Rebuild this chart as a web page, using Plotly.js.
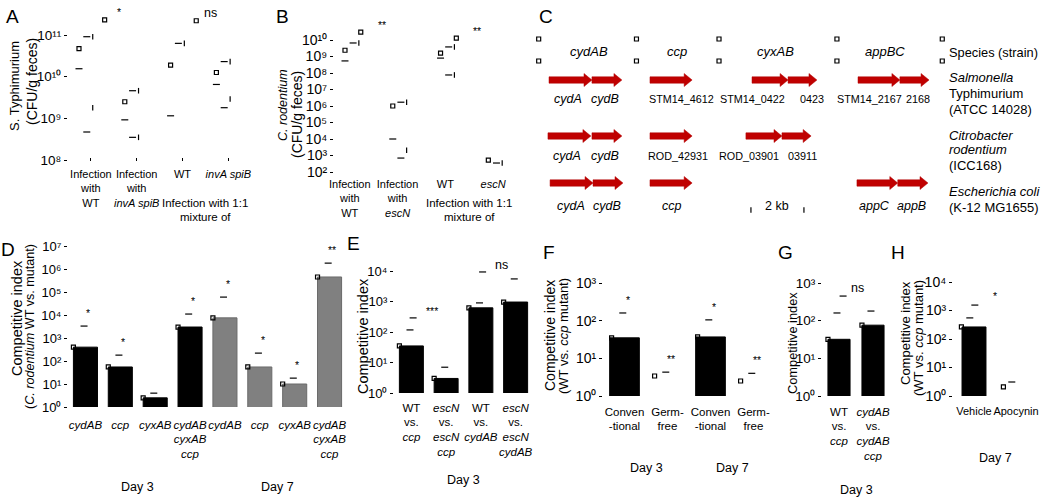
<!DOCTYPE html>
<html>
<head>
<meta charset="utf-8">
<script src="https://cdn.plot.ly/plotly-3.0.1.min.js"></script>
<style>
html,body{margin:0;padding:0;background:#ffffff;}
#chart{width:1050px;height:502px;}
</style>
</head>
<body>
<div id="chart"></div>
<script>
// ================= DATA =================
// Panel A - S. Typhimurium (CFU/g feces)
const aCategories = ['Infection<br>with<br>WT', 'Infection<br>with<br><i>invA spiB</i>', 'WT', '<i>invA spiB</i>'];
const aMean  = [4.7e10, 2.5e9, 1.9e10, 1.26e10];
const aLower = [1.55e10, 9.2e8, 1.15e9, 6.5e9];
const aUpper = [9.1e10, 4.6e9, 6.3e10, 2.3e10];
const aMinA  = [4.7e8, 3.5e8, null, 1.8e9];
const aMinB  = [1.8e9, 3.5e8, null, 2.9e9];
const aCompLeft = [0, 2];
const aCompCap  = [2.3e11, 2.2e11];
const aCompText = ['*', 'ns'];
const aExponents = [8, 9, 10, 11];

// Panel B - C. rodentium (CFU/g feces)
const bCategories = ['Infection<br>with<br>WT', 'Infection<br>with<br><i>escN</i>', 'WT', '<i>escN</i>'];
const bMean  = [2.4e9, 1.0e6, 1.6e9, 530];
const bLower = [5.4e8, 1.0e4, 8.0e8, null];
const bUpper = [6.6e9, 1.7e6, 3.8e9, 350];
const bMinA  = [null, 700, 7.6e7, null];
const bMinB  = [null, 2100, 7.6e7, null];
const bCompLeft = [0, 2];
const bCompCap  = [3.0e10, 1.3e10];
const bCompText = ['**', '**'];
const bExponents = [2, 3, 4, 5, 6, 7, 8, 9, 10];

// Panel C - gene loci (kb)
const cLoci = ['cydAB', 'ccp', 'cyxAB', 'appBC'];
const cSpecies = [
  ['<i>Salmonella</i>', 'Typhimurium', '(ATCC 14028)'],
  ['<i>Citrobacter</i>', '<i>rodentium</i>', '(ICC168)'],
  ['<i>Escherichia coli</i>', '(K-12 MG1655)']
];
const cGeneLocus = [[0, 0, 1, 2, 2, 3, 3], [0, 0, 1, 2, 2], [0, 0, 1, 3, 3]];
const cGeneStart = [[0.34, 1.96, 4.15, 8.00, 9.36, 12.00, 13.58], [0.30, 1.96, 4.15, 7.77, 9.13], [0.38, 2.00, 4.15, 11.96, 13.50]];
const cGeneEnd   = [[1.96, 3.09, 5.74, 9.36, 10.45, 13.58, 14.68], [1.92, 3.09, 5.74, 9.13, 10.23], [2.00, 3.13, 5.74, 13.50, 14.64]];
const cGeneName  = [
  ['<i>cydA</i>', '<i>cydB</i>', 'STM14_4612', 'STM14_0422', '0423', 'STM14_2167', '2168'],
  ['<i>cydA</i>', '<i>cydB</i>', 'ROD_42931', 'ROD_03901', '03911'],
  ['<i>cydA</i>', '<i>cydB</i>', '<i>ccp</i>', '<i>appC</i>', '<i>appB</i>']
];
const cScaleKb = 2;

// Panel D - competitive index, C. rodentium WT vs mutant
const dCategories = ['<i>cydAB</i>', '<i>ccp</i>', '<i>cyxAB</i>', '<i>cydAB</i><br><i>cyxAB</i><br><i>ccp</i>',
                     '<i>cydAB</i>', '<i>ccp</i>', '<i>cyxAB</i>', '<i>cydAB</i><br><i>cyxAB</i><br><i>ccp</i>'];
const dDay    = ['Day 3', 'Day 3', 'Day 3', 'Day 3', 'Day 7', 'Day 7', 'Day 7', 'Day 7'];
const dValues = [400, 55, 2.5, 3000, 7500, 55, 10, 450000];
const dUpper  = [3300, 180, 4, 11000, 60000, 220, 18, 1.8e6];
const dSig    = ['*', '*', '', '*', '*', '*', '*', '**'];
const dExponents = [0, 1, 2, 3, 4, 5, 6, 7];

// Panel E
const eCategories = ['WT<br>vs.<br><i>ccp</i>', '<i>escN</i><br>vs.<br><i>escN</i><br><i>ccp</i>', 'WT<br>vs.<br><i>cydAB</i>', '<i>escN</i><br>vs.<br><i>escN</i><br><i>cydAB</i>'];
const eValues = [35, 3, 620, 960];
const eUpper  = [117, 7, 900, 5500];
const eCompLeft = [0, 2];
const eCompCap  = [290, 9300];
const eCompText = ['***', 'ns'];
const eDay = 'Day 3';
const eExponents = [0, 1, 2, 3, 4];

// Panel F
const fCategories = ['Conven<br>-tional', 'Germ-<br>free', 'Conven<br>-tional', 'Germ-<br>free'];
const fCondition = ['Conventional', 'Germ-free', 'Conventional', 'Germ-free'];
const fDay    = ['Day 3', 'Day 3', 'Day 7', 'Day 7'];
const fValues = [35, 3.4, 37, 2.5];
const fUpper  = [160, 4.3, 105, 4];
const fSig    = ['*', '**', '*', '**'];
const fExponents = [0, 1, 2, 3];

// Panel G
const gCategories = ['WT<br>vs.<br><i>ccp</i>', '<i>cydAB</i><br>vs.<br><i>cydAB</i><br><i>ccp</i>'];
const gValues = [32, 76];
const gUpper  = [160, 180];
const gCompLeft = [0];
const gCompCap  = [450];
const gCompText = ['ns'];
const gDay = 'Day 3';
const gExponents = [0, 1, 2, 3];

// Panel H
const hCategories = ['Vehicle', 'Apocynin'];
const hValues = [265, 2.1];
const hUpper  = [550, 3.1];
const hCompLeft = [0];
const hCompCap  = [1550];
const hCompText = ['*'];
const hDay = 'Day 7';
const hExponents = [0, 1, 2, 3, 4];

// ================= HELPERS =================
const W = 1050, H = 502;
const REG = '"Liberation Sans",Arial,Helvetica,sans-serif';
const SUPS = ['⁰', '¹', '²', '³', '⁴', '⁵', '⁶', '⁷', '⁸', '⁹'];
const pow10Label = e => '10' + String(e).split('').map(d => SUPS[+d]).join('');
const fx = p => p / W;
const fy = p => 1 - p / H;
const idx = arr => arr.map((_, i) => i);
const shift = (arr, d) => arr.map((_, i) => i + d);
function logRange(v0, p0, v1, p1, pBottom, pTop) {
  const k = (v1 - v0) / (p0 - p1);
  return [v0 - (pBottom - p0) * k, v0 + (p0 - pTop) * k];
}
const traces = [], annotations = [], shapes = [];
const layout = {
  width: W, height: H, margin: {l: 0, r: 0, t: 0, b: 0},
  paper_bgcolor: '#ffffff', plot_bgcolor: 'rgba(0,0,0,0)', showlegend: false,
  font: {family: REG, size: 12, color: '#000'},
  annotations, shapes
};

function setAxes(n, o) {
  const xk = n === 1 ? 'xaxis' : 'xaxis' + n, yk = n === 1 ? 'yaxis' : 'yaxis' + n;
  const xid = n === 1 ? 'x' : 'x' + n, yid = n === 1 ? 'y' : 'y' + n;
  layout[xk] = {
    domain: [fx(o.x0), fx(o.x1)], range: o.xRange, anchor: yid, type: 'linear',
    tickmode: 'array', tickvals: idx(o.cats), ticktext: o.cats,
    ticks: o.xTicks || '', ticklen: 3, tickcolor: '#000', tickwidth: 1,
    showline: false, showgrid: false, zeroline: false, tickangle: 0,
    tickfont: {family: REG, size: o.catSize, color: '#000'},
    ticklabelstandoff: o.xStand || 0,
    automargin: false, fixedrange: true
  };
  layout[yk] = {
    domain: [fy(o.yb), fy(o.yt)], range: o.yRange, anchor: xid, type: 'log',
    tickmode: 'array', tickvals: o.exps.map(e => Math.pow(10, e)),
    ticktext: o.exps.map(pow10Label),
    ticks: 'outside', ticklen: 3, tickwidth: 1, tickcolor: '#000',
    showline: false, showgrid: false, zeroline: false,
    tickfont: {family: REG, size: o.tickSize, color: '#000'},
    automargin: false, fixedrange: true
  };
  return [xid, yid];
}
function marks(xa, ya, xs, ys, symbol, size, lw) {
  traces.push({
    type: 'scatter', mode: 'markers', xaxis: xa, yaxis: ya, x: xs, y: ys,
    marker: {symbol: symbol, size: size, color: '#000', line: {color: '#000', width: lw || 1.2}},
    hoverinfo: 'skip', showlegend: false, cliponaxis: false
  });
}
function bars(xa, ya, vals, colors, lineColors, width) {
  traces.push({
    type: 'bar', xaxis: xa, yaxis: ya, x: idx(vals), y: vals, width: width,
    marker: {color: colors, line: {color: lineColors, width: 1}},
    hoverinfo: 'skip', showlegend: false
  });
}
function txt(text, x, y, o) {
  annotations.push(Object.assign({
    text: text, x: x, y: y, xref: 'paper', yref: 'paper', showarrow: false,
    xanchor: 'center', yanchor: 'middle',
    font: {family: REG, size: 12, color: '#000'}
  }, o || {}));
}
function ytitle(text, xPx, yPx, size) {
  txt(text, fx(xPx), fy(yPx), {textangle: -90, font: {family: REG, size: size, color: '#000'}});
}
function comps(xa, ya, left, cap, text, capOff, textOff, capSym, yshift) {
  marks(xa, ya, left.map(l => l + capOff), cap, capSym, capSym === 'square-open' ? 4 : 5);
  left.forEach((l, i) => {
    txt(text[i], l + textOff, Math.log10(cap[i]), {xref: xa, yref: ya, yshift: yshift,
      font: {family: REG, size: text[i] === 'ns' ? 12.5 : 10.5, color: '#000'}});
  });
}
function barSig(xa, ya, upper, sig) {
  upper.forEach((u, i) => {
    if (sig[i]) txt(sig[i], i + 0.08, Math.log10(u), {xref: xa, yref: ya, yshift: 13,
      font: {family: REG, size: 10.5, color: '#000'}});
  });
}
function panelLetter(l, xPx, yPx) {
  txt(l, fx(xPx), fy(yPx), {font: {family: REG, size: 19, color: '#000'}});
}
function dayLabels(xa, days, yPx) {
  [...new Set(days)].forEach(day => {
    const ii = idx(days).filter(i => days[i] === day);
    txt(day, (ii[0] + ii[ii.length - 1]) / 2, fy(yPx), {xref: xa, font: {family: REG, size: 12.5, color: '#000'}});
  });
}

// ================= PANEL A =================
{
  const [xa, ya] = setAxes(1, {x0: 68, x1: 251.2, xRange: [-0.5, 3.5], cats: aCategories, catSize: 11, xTicks: 'inside', xStand: 5,
    yb: 161, yt: 8, yRange: logRange(8, 160, 11, 35, 161, 8), exps: aExponents, tickSize: 13.5});
  marks(xa, ya, shift(aMean, -0.26), aMean, 'square-open', 4);
  marks(xa, ya, shift(aLower, -0.26), aLower, 'line-ew-open', 5);
  marks(xa, ya, shift(aUpper, -0.09), aUpper, 'line-ew-open', 5);
  marks(xa, ya, shift(aUpper, 0.04), aUpper, 'line-ns-open', 4);
  marks(xa, ya, shift(aMinA, -0.09), aMinA, 'line-ew-open', 5);
  marks(xa, ya, shift(aMinB, 0.04), aMinB, 'line-ns-open', 4);
  comps(xa, ya, aCompLeft, aCompCap, aCompText, 0.3, 0.62, 'square-open', 8);
  txt('Infection with 1:1', 2.5, fy(203), {xref: xa, font: {family: REG, size: 11.5, color: '#000'}});
  txt('mixture of', 2.5, fy(217), {xref: xa, font: {family: REG, size: 11.5, color: '#000'}});
  ytitle('S. Typhimurium', 15, 86, 13);
  ytitle('(CFU/g feces)', 32, 82, 14);
  panelLetter('A', 12, 17);
}

// ================= PANEL B =================
{
  const [xa, ya] = setAxes(2, {x0: 334, x1: 517, xRange: [-0.33, 3.5], cats: bCategories, catSize: 11, xStand: 2,
    yb: 174, yt: 18, yRange: logRange(2, 172, 10, 40, 174, 18), exps: bExponents, tickSize: 14});
  marks(xa, ya, shift(bMean, -0.10), bMean, 'square-open', 4);
  marks(xa, ya, shift(bLower, -0.10), bLower, 'line-ew-open', 5);
  marks(xa, ya, shift(bUpper, 0.07), bUpper, 'line-ew-open', 5);
  marks(xa, ya, shift(bUpper, 0.19), bUpper, 'line-ns-open', 4);
  marks(xa, ya, shift(bMinA, 0.07), bMinA, 'line-ew-open', 5);
  marks(xa, ya, shift(bMinB, 0.19), bMinB, 'line-ns-open', 4);
  comps(xa, ya, bCompLeft, bCompCap, bCompText, 0.23, 0.67, 'square-open', 7);
  txt('Infection with 1:1', 2.5, fy(203), {xref: xa, font: {family: REG, size: 11.5, color: '#000'}});
  txt('mixture of', 2.5, fy(217), {xref: xa, font: {family: REG, size: 11.5, color: '#000'}});
  ytitle('<i>C. rodentium</i>', 283, 105, 12.5);
  ytitle('(CFU/g feces)', 297, 115, 14);
  panelLetter('B', 282, 17);
}

// ================= PANEL C =================
{
  const kbPerPx = cScaleKb / 53;
  layout.xaxis3 = {domain: [fx(530), fx(950)], range: [-10 * kbPerPx, 410 * kbPerPx], anchor: 'y3', visible: false, fixedrange: true};
  layout.yaxis3 = {domain: [fy(215), fy(30)], range: [215, 30], anchor: 'x3', visible: false, fixedrange: true};
  const rowArrowY = [80, 136, 183];
  const rowLabelY = [99, 156, 206];
  const speciesLineY = [[78, 93, 109], [135, 150, 166], [191, 207]];
  const labelShift = [[-2, -2, 10, -18, 10, -9, 4], [-2, -2, 7, -15, 6], [-1, -1, 1, -3, -1]];
  const headerShift = [4, 6, -6, -8];
  const hl = 0.3, sh = 3.2, hh = 6.5;
  cGeneStart.forEach((row, r) => {
    row.forEach((s, g) => {
      const e = cGeneEnd[r][g], y = rowArrowY[r];
      shapes.push({type: 'path', xref: 'x3', yref: 'y3',
        path: `M ${s},${y - sh} L ${e - hl},${y - sh} L ${e - hl},${y - hh} L ${e},${y} L ${e - hl},${y + hh} L ${e - hl},${y + sh} L ${s},${y + sh} Z`,
        fillcolor: '#c00000', line: {color: '#b00000', width: 0.5}, layer: 'above'});
      const name = cGeneName[r][g];
      const ital = name.indexOf('<i>') === 0;
      txt(name, (s + e) / 2, rowLabelY[r], {xref: 'x3', yref: 'y3', xshift: labelShift[r][g],
        font: {family: REG, size: ital ? 12.5 : 10.8, color: '#000'}});
    });
  });
  const colSpan = cLoci.map((_, L) => {
    let lo = Infinity, hi = -Infinity;
    cGeneLocus.forEach((row, r) => row.forEach((loc, g) => {
      if (loc === L) { lo = Math.min(lo, cGeneStart[r][g]); hi = Math.max(hi, cGeneEnd[r][g]); }
    }));
    return [lo, hi];
  });
  cLoci.forEach((name, L) => {
    txt('<i>' + name + '</i>', (colSpan[L][0] + colSpan[L][1]) / 2, 52, {xref: 'x3', yref: 'y3', xshift: headerShift[L],
      font: {family: REG, size: 13, color: '#000'}});
  });
  const bounds = [colSpan[0][0] - 0.35];
  for (let L = 0; L < cLoci.length - 1; L++) bounds.push((colSpan[L][1] + colSpan[L + 1][0]) / 2);
  bounds.push(colSpan[cLoci.length - 1][1] + 0.5);
  marks('x3', 'y3', bounds.concat(bounds), bounds.map(() => 39).concat(bounds.map(() => 61)), 'square-open', 4);
  txt('Species (strain)', fx(947), fy(52), {xanchor: 'left', font: {family: REG, size: 12.8, color: '#000'}});
  cSpecies.forEach((lines, r) => {
    lines.forEach((l, k) => txt(l, fx(947), fy(speciesLineY[r][k]), {xanchor: 'left', font: {family: REG, size: 13, color: '#000'}}));
  });
  const sc = (colSpan[2][0] + colSpan[2][1]) / 2 - 0.15;
  marks('x3', 'y3', [sc - cScaleKb / 2, sc + cScaleKb / 2], [210, 210], 'line-ns-open', 4);
  txt(cScaleKb + ' kb', sc, 206, {xref: 'x3', yref: 'y3', font: {family: REG, size: 12.5, color: '#000'}});
  panelLetter('C', 546, 17);
}

// ================= PANEL D =================
{
  const [xa, ya] = setAxes(4, {x0: 68, x1: 347, xRange: [-0.5, 7.5], cats: dCategories, catSize: 11.5, xStand: 9,
    yb: 407, yt: 238, yRange: logRange(0, 407, 7, 246, 407, 238), exps: dExponents, tickSize: 13});
  bars(xa, ya, dValues, dDay.map(d => d === 'Day 3' ? '#000000' : '#808080'),
       dDay.map(d => d === 'Day 3' ? '#000000' : '#6a6a6a'), 0.69);
  marks(xa, ya, shift(dValues, -0.345), dValues, 'square-open', 4);
  marks(xa, ya, shift(dUpper, -0.04), dUpper, 'line-ew-open', 5);
  barSig(xa, ya, dUpper, dSig);
  dayLabels(xa, dDay, 487);
  ytitle('Competitive index', 17, 318, 14.5);
  ytitle('(<i>C. rodentium</i> WT vs. mutant)', 30, 327, 12.6);
  panelLetter('D', 8, 249);
}

// ================= PANEL E =================
{
  const [xa, ya] = setAxes(5, {x0: 394, x1: 533, xRange: [-0.5, 3.5], cats: eCategories, catSize: 11.5, xStand: 6,
    yb: 393, yt: 262, yRange: logRange(0, 393, 4, 271, 393, 262), exps: eExponents, tickSize: 13});
  bars(xa, ya, eValues, eValues.map(() => '#000000'), eValues.map(() => '#000000'), 0.69);
  marks(xa, ya, shift(eValues, -0.345), eValues, 'square-open', 4);
  marks(xa, ya, shift(eUpper, -0.04), eUpper, 'line-ew-open', 5);
  comps(xa, ya, eCompLeft, eCompCap, eCompText, 0.05, 0.58, 'line-ew-open', 7);
  dayLabels(xa, eValues.map(() => eDay), 480);
  ytitle('Competitive index', 363, 336, 14.5);
  panelLetter('E', 353, 243);
}

// ================= PANEL F =================
{
  const [xa, ya] = setAxes(6, {x0: 603, x1: 775, xRange: [-0.5, 3.5], cats: fCategories, catSize: 11.5, xStand: 7,
    yb: 396, yt: 278, yRange: logRange(0, 396, 3, 283, 396, 278), exps: fExponents, tickSize: 14});
  bars(xa, ya, fValues, fCondition.map(c => c === 'Conventional' ? '#000000' : '#ffffff'),
       fCondition.map(c => c === 'Conventional' ? '#000000' : '#ffffff'), 0.69);
  marks(xa, ya, shift(fValues, -0.3), fValues, 'square-open', 4);
  marks(xa, ya, shift(fUpper, -0.04), fUpper, 'line-ew-open', 5);
  barSig(xa, ya, fUpper, fSig);
  dayLabels(xa, fDay, 468);
  ytitle('Competitive index', 550, 336, 14);
  ytitle('(WT vs. <i>ccp</i> mutant)', 563, 336, 13);
  panelLetter('F', 549, 252);
}

// ================= PANEL G =================
{
  const [xa, ya] = setAxes(7, {x0: 822, x1: 890, xRange: [-0.5, 1.5], cats: gCategories, catSize: 11.5, xStand: 7,
    yb: 396, yt: 278, yRange: logRange(0, 396, 3, 283, 396, 278), exps: gExponents, tickSize: 13.5});
  bars(xa, ya, gValues, gValues.map(() => '#000000'), gValues.map(() => '#000000'), 0.65);
  marks(xa, ya, shift(gValues, -0.325), gValues, 'square-open', 4);
  marks(xa, ya, shift(gUpper, -0.06), gUpper, 'line-ew-open', 5);
  comps(xa, ya, gCompLeft, gCompCap, gCompText, 0.12, 0.53, 'line-ew-open', 8);
  dayLabels(xa, gValues.map(() => gDay), 490);
  ytitle('Competitive index', 792, 343, 12.8);
  panelLetter('G', 785, 252);
}

// ================= PANEL H =================
{
  const [xa, ya] = setAxes(8, {x0: 953, x1: 1037, xRange: [-0.5, 1.5], cats: hCategories, catSize: 11, xStand: 7,
    yb: 396, yt: 275, yRange: logRange(0, 396, 4, 282, 396, 275), exps: hExponents, tickSize: 14});
  bars(xa, ya, hValues, hCategories.map(c => c === 'Vehicle' ? '#000000' : '#ffffff'),
       hCategories.map(c => c === 'Vehicle' ? '#000000' : '#ffffff'), 0.57);
  marks(xa, ya, shift(hValues, -0.3), hValues, 'square-open', 4);
  marks(xa, ya, shift(hUpper, -0.1), hUpper, 'line-ew-open', 5);
  comps(xa, ya, hCompLeft, hCompCap, hCompText, 0.02, 0.5, 'line-ew-open', 9);
  dayLabels(xa, hValues.map(() => hDay), 458);
  ytitle('Competitive index', 905, 333, 13);
  ytitle('(WT vs. <i>ccp</i> mutant)', 918, 338, 13);
  panelLetter('H', 898, 252);
}

Plotly.newPlot('chart', traces, layout, {staticPlot: true, displayModeBar: false});
</script>
</body>
</html>
